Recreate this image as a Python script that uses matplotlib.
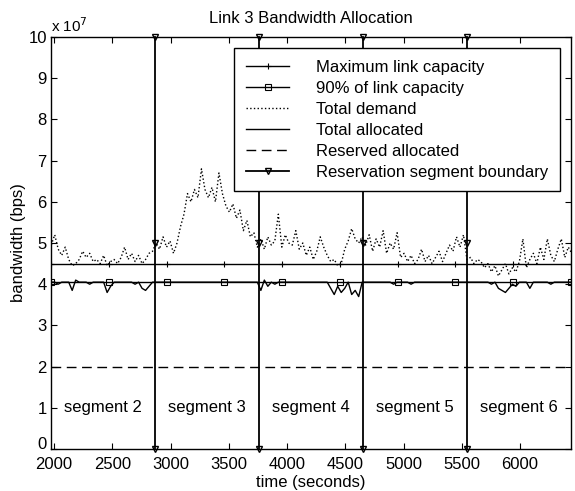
import matplotlib
matplotlib.use("Agg")
import matplotlib.pyplot as plt
from matplotlib.transforms import ScaledTranslation

# ---------------- data (bandwidth in units of 1e7 bps) ----------------
demand_t = [1975 + 30 * i for i in range(158)]
demand_v = [
    4.95, 5.2, 4.85, 4.7, 4.9, 4.6, 4.45, 4.5, 4.6, 4.8,
    4.65, 4.75, 4.55, 4.6, 4.5, 4.7, 4.45, 4.55, 4.6, 4.5,
    4.65, 4.9, 4.6, 4.75, 4.55, 4.7, 4.5, 4.6, 4.75, 4.8,
    5.0, 4.85, 5.15, 4.9, 5.05, 4.75, 5.0, 5.4, 5.7, 6.2,
    6.0, 6.3, 6.1, 6.8, 6.3, 6.1, 6.35, 6.0, 6.7, 6.2,
    5.9, 5.75, 5.95, 5.6, 5.8, 5.3, 5.55, 5.15, 5.25, 4.9,
    5.1, 4.85, 5.15, 4.95, 5.05, 5.7, 4.9, 5.2, 5.0, 4.95,
    5.3, 4.85, 5.0, 4.7, 4.9, 4.6, 4.8, 5.15, 4.9, 4.7,
    4.55, 4.6, 4.45, 4.5, 4.85, 5.05, 5.35, 5.1, 5.0, 5.15,
    4.95, 5.2, 4.8, 5.1, 4.9, 5.3, 4.75, 5.0, 4.85, 5.25,
    4.65, 4.75, 4.55, 4.7, 4.5, 4.6, 4.85, 4.55, 4.7, 4.5,
    4.65, 4.8, 4.55, 4.75, 4.95, 4.8, 5.15, 4.9, 5.2, 4.6,
    4.65, 4.5, 4.6, 4.55, 4.4, 4.5, 4.3, 4.45, 4.2, 4.35,
    4.5, 4.25, 4.4, 4.3, 4.55, 5.1, 4.4, 4.6, 4.75, 4.5,
    4.9, 4.6, 5.1, 4.7, 4.55, 4.85, 5.1, 4.65, 4.9, 4.75,
    4.8, 4.7, 4.9, 4.6, 4.85, 4.7, 4.8, 4.75,
]
alloc_v = [
    4.05, 4.05, 4.0, 4.05, 4.05, 4.05, 3.85, 4.1, 4.05, 4.05,
    4.05, 4.0, 4.05, 4.05, 4.05, 4.05, 3.8, 3.95, 4.05, 4.05,
    4.05, 4.05, 4.05, 4.05, 4.0, 4.05, 3.9, 3.85, 3.95, 4.05,
    4.05, 4.05, 4.05, 4.05, 4.05, 4.05, 4.05, 4.05, 4.05, 4.05,
    4.05, 4.05, 4.05, 4.05, 4.05, 4.05, 4.05, 4.05, 4.05, 4.05,
    4.05, 4.05, 4.05, 4.05, 4.05, 4.05, 4.05, 4.05, 4.05, 4.05,
    3.85, 4.1, 3.95, 4.05, 4.0, 4.05, 4.05, 4.05, 4.05, 4.05,
    4.05, 4.05, 4.05, 4.05, 4.05, 4.05, 4.05, 4.05, 4.05, 4.05,
    3.9, 3.75, 3.95, 3.8, 3.9, 4.05, 3.75, 3.85, 3.7, 4.05,
    4.05, 4.05, 4.05, 4.05, 4.05, 4.05, 4.05, 4.05, 4.0, 4.05,
    4.05, 4.05, 4.05, 4.0, 4.05, 4.05, 4.05, 4.05, 4.05, 4.05,
    4.05, 4.05, 4.05, 4.05, 4.05, 4.05, 4.05, 4.05, 4.05, 4.05,
    4.05, 4.05, 4.05, 4.05, 4.05, 4.05, 4.0, 4.05, 3.9, 3.85,
    3.8, 3.9, 4.0, 3.95, 4.05, 4.05, 4.05, 3.9, 4.05, 4.05,
    4.05, 4.05, 4.05, 4.0, 4.05, 4.05, 4.05, 4.05, 4.05, 4.05,
    4.05, 4.05, 4.05, 4.05, 4.05, 4.05, 4.05, 4.05,
]
cap_t = [1973, 2469, 2965, 3461, 3957, 4453, 4949, 5445, 5941, 6438]
max_capacity = 4.5
pct90_capacity = 4.05
reserved = 2.0
boundaries = [2866, 3759, 4652, 5545]
boundary_marks = [0, 5, 10]
segment_labels = ["segment 2", "segment 3", "segment 4", "segment 5", "segment 6"]
segment_centers = [2420, 3312, 4205, 5098, 5991]
x_ticks = [2000, 2500, 3000, 3500, 4000, 4500, 5000, 5500, 6000]
y_ticks = [0, 1, 2, 3, 4, 5, 6, 7, 8, 9, 10]

plt.rcParams['font.family'] = ['Liberation Sans', 'DejaVu Sans']
FS = 12

fig = plt.figure(figsize=(5.75, 4.91), dpi=100)
ax = fig.add_axes([0.0887, 0.0855, 0.9043, 0.8391])

l_max, = ax.plot(cap_t, [max_capacity] * len(cap_t), color='k', lw=1.0,
                 marker='+', ms=4, mew=0.8, label='Maximum link capacity')
l_90, = ax.plot(cap_t, [pct90_capacity] * len(cap_t), color='k', lw=1.0,
                marker='s', ms=4, mfc='none', mew=0.8, label='90% of link capacity')
l_dem, = ax.plot(demand_t, demand_v, color='k', lw=1.0, ls=':', label='Total demand')
l_all, = ax.plot(demand_t, alloc_v, color='k', lw=1.0, ls='-', label='Total allocated')
l_res, = ax.plot([cap_t[0], cap_t[-1]], [reserved, reserved], color='k', lw=1.0,
                 ls=(0, (7, 4)), label='Reserved allocated')
l_bnd = None
for b in boundaries:
    l_bnd, = ax.plot([b] * len(boundary_marks), boundary_marks, color='k', lw=1.3,
                     marker='v', ms=5, mfc='none', mew=1.0, clip_on=False,
                     label='Reservation segment boundary')

for lab, c in zip(segment_labels, segment_centers):
    ax.text(c, 1, lab, ha='center', va='center', fontsize=FS)

ax.set_xlim(1973, 6438)
ax.set_ylim(0, 10)
ax.set_xticks(x_ticks)
ax.set_yticks(y_ticks)
ax.set_xticklabels([str(v) for v in x_ticks])
ax.set_yticklabels([str(v) for v in y_ticks])
ax.tick_params(direction='in', length=4, width=0.8, top=True, right=True,
               labelsize=FS)
ax.tick_params(axis='x', pad=6)
ax.tick_params(axis='y', pad=3)
for s in ax.spines.values():
    s.set_linewidth(1.0)

# lift the "0" label slightly so it sits just above the "2000" label
lab0 = ax.get_yticklabels()[0]
lab0.set_transform(lab0.get_transform() + ScaledTranslation(0, 4 / 72, fig.dpi_scale_trans))

ax.text(0.0, 1.005, r'x 10$^{7}$', transform=ax.transAxes, fontsize=FS - 1,
        ha='left', va='bottom')
ax.set_title('Link 3 Bandwidth Allocation', fontsize=FS, pad=10)
ax.set_xlabel('time (seconds)', fontsize=FS, labelpad=2)
ax.set_ylabel('bandwidth (bps)', fontsize=FS, labelpad=2)

leg = ax.legend(handles=[l_max, l_90, l_dem, l_all, l_res, l_bnd],
                loc='upper right', bbox_to_anchor=(0.979, 0.973),
                fontsize=FS, frameon=True, fancybox=False, framealpha=1,
                edgecolor='k', borderaxespad=0, labelspacing=0.36,
                handlelength=2.6, handletextpad=1.6, borderpad=0.7)
leg.get_frame().set_linewidth(1.0)

fig.savefig('out.png', dpi=100)
